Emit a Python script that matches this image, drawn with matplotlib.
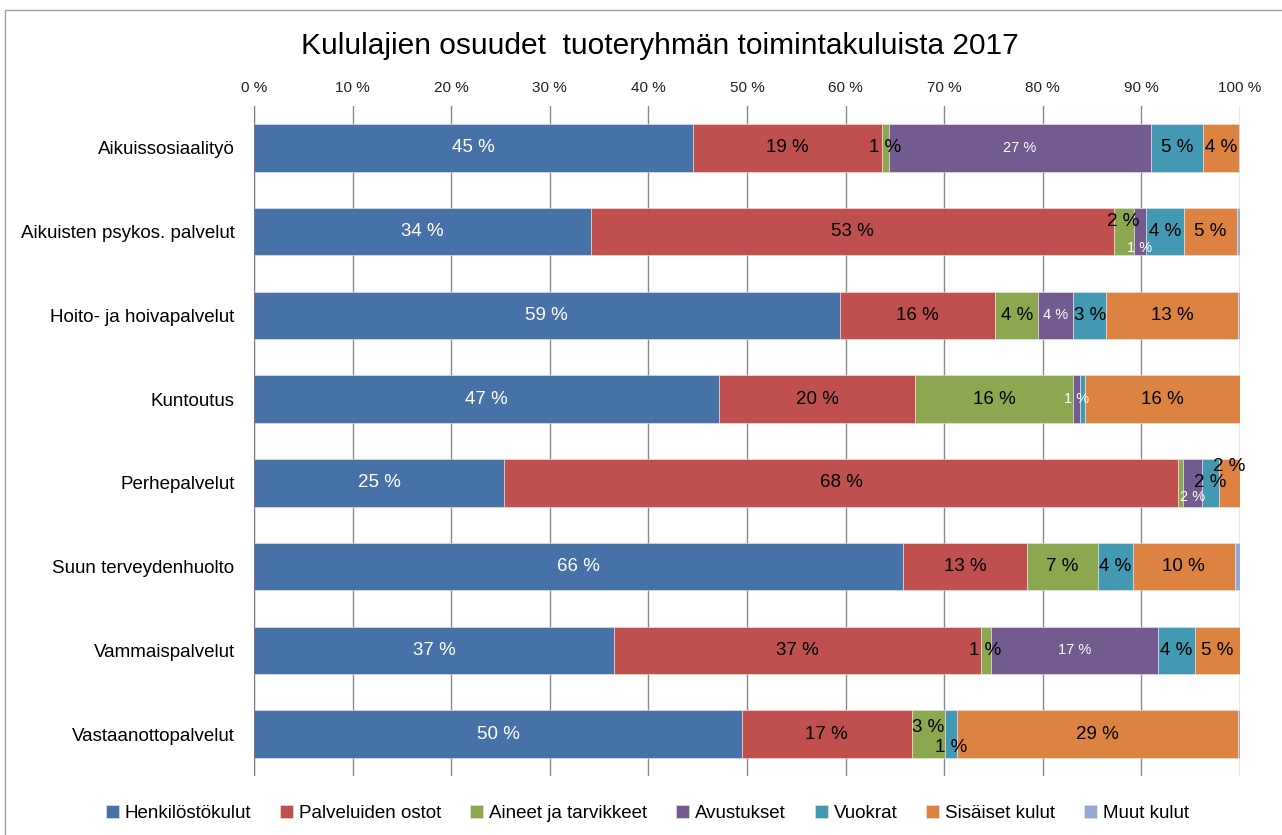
import matplotlib
matplotlib.use("Agg")
import matplotlib.pyplot as plt
from matplotlib import font_manager
from matplotlib.patches import Rectangle
import numpy as np

# data (percent of operating costs)
categories = ["Aikuissosiaalityö", "Aikuisten psykos. palvelut", "Hoito- ja hoivapalvelut",
              "Kuntoutus", "Perhepalvelut", "Suun terveydenhuolto", "Vammaispalvelut",
              "Vastaanottopalvelut"]
series = ["Henkilöstökulut", "Palveluiden ostot", "Aineet ja tarvikkeet", "Avustukset",
          "Vuokrat", "Sisäiset kulut", "Muut kulut"]
henkilosto = [44.5, 34.2, 59.4, 47.2, 25.4, 65.8, 36.5, 49.5]
palvelut   = [19.2, 53.0, 15.8, 19.8, 68.3, 12.6, 37.2, 17.2]
aineet     = [0.7, 2.0, 4.3, 16.1, 0.5, 7.2, 1.0, 3.4]
avustukset = [26.6, 1.3, 3.6, 0.7, 1.9, 0.0, 17.0, 0.0]
vuokrat    = [5.2, 3.8, 3.3, 0.5, 1.8, 3.5, 3.7, 1.2]
sisaiset   = [3.7, 5.4, 13.4, 15.7, 2.1, 10.4, 4.6, 28.5]
muut       = [0.1, 0.3, 0.2, 0.0, 0.0, 0.5, 0.0, 0.2]
values = [henkilosto, palvelut, aineet, avustukset, vuokrat, sisaiset, muut]

colors = ["#4672A8", "#C0504D", "#8BA750", "#735A8F", "#4399B1", "#DD8341", "#94AAD0"]
label_colors = ["white", "black", "black", "white", "black", "black", "black"]
label_sizes = [13.5, 13.5, 13.5, 10.5, 13.5, 13.5, 13.5]
# nudges (pixels, vertical) for crowded labels: (row, series) -> dy
nudge = {(1, 2): 10, (1, 3): -16, (4, 3): -14, (4, 5): 16, (7, 2): 7, (7, 4): -13}
hidden = {(3, 4), (4, 2)}

names = {f.name for f in font_manager.fontManager.ttflist}
fam = "Liberation Sans Narrow" if "Liberation Sans Narrow" in names else "Liberation Sans"
plt.rcParams["font.family"] = [fam, "DejaVu Sans"]

fig = plt.figure(figsize=(12.82, 8.35), dpi=100)
ax = fig.add_axes([254/1282, 59/835, 986/1282, 670/835])

y = np.arange(len(categories))
left = np.zeros(len(categories))
for j, (name, vals) in enumerate(zip(series, values)):
    vals = np.array(vals)
    ax.barh(y, vals, left=left, height=0.57, color=colors[j], label=name,
            edgecolor="#f0e6e6", linewidth=0.4, zorder=3)
    for i, v in enumerate(vals):
        if j == 6 or v < 0.6 or (i, j) in hidden:
            continue
        dy = nudge.get((i, j), 0)
        ax.annotate(f"{int(v + 0.5)} %", (left[i] + v / 2, y[i]), xytext=(0, dy),
                    textcoords="offset pixels", ha="center", va="center",
                    color=label_colors[j], fontsize=label_sizes[j], zorder=5)
    left += vals

ax.set_xlim(0, 100)
ax.set_ylim(len(categories) - 0.5, -0.5)
ax.set_xticks(np.arange(0, 101, 10))
ax.set_xticklabels([f"{t} %" for t in range(0, 101, 10)])
ax.xaxis.tick_top()
ax.tick_params(axis="x", length=0, pad=8, labelsize=11, colors="#222222")
ax.set_yticks(y)
ax.set_yticklabels(categories)
ax.tick_params(axis="y", length=0, pad=14, labelsize=13.5)
ax.grid(axis="x", color="#8a8a8a", linewidth=1.0, zorder=0)
ax.set_axisbelow(True)
for s in ax.spines.values():
    s.set_visible(False)
ax.axvline(0, color="#7a7a7a", linewidth=1.5, zorder=4)

fig.text(0.515, 0.945, "Kululajien osuudet  tuoteryhmän toimintakuluista 2017",
         ha="center", va="center", fontsize=21.5)

fig.legend(loc="center", bbox_to_anchor=(0.505, 0.026), ncol=7, frameon=False,
           fontsize=13.5, handlelength=0.7, handleheight=0.7, handletextpad=0.3,
           columnspacing=1.55)

fig.patches.append(Rectangle((5/1282, -0.1), 2, 1.1 - 10/835, transform=fig.transFigure,
                             fill=False, edgecolor="#a0a0a0", linewidth=1))

fig.savefig("out.png", dpi=100)
